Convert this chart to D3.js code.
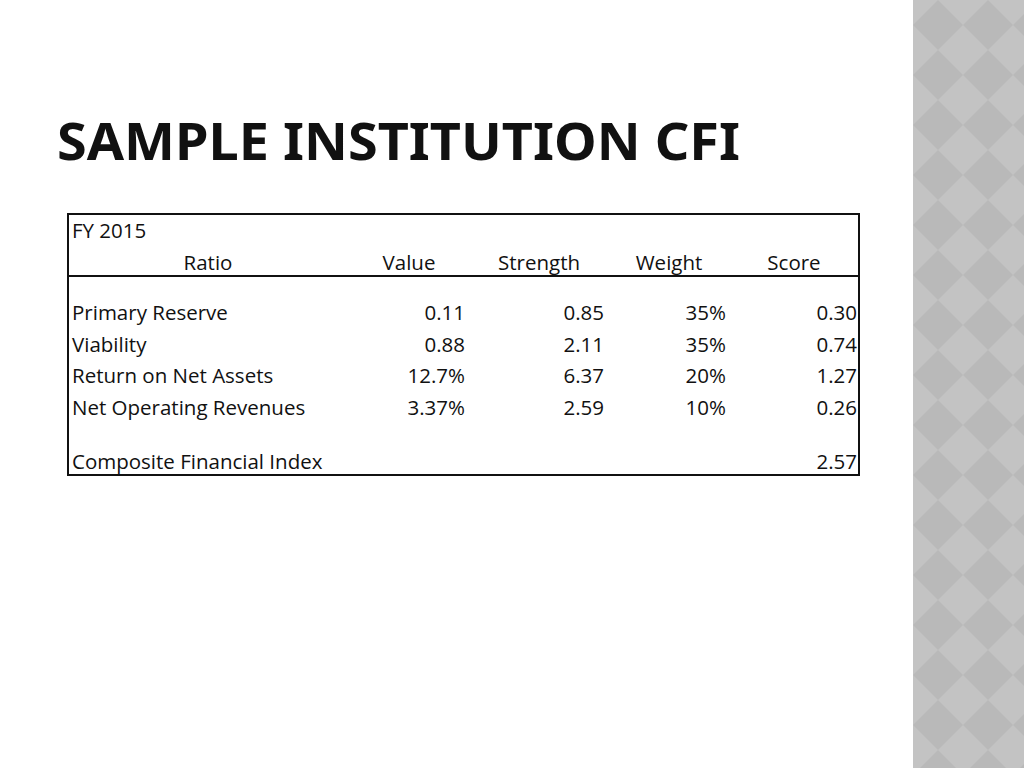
<!DOCTYPE html><html><head><meta charset="utf-8"><script src="https://d3js.org/d3.v7.min.js"></script>
<style>body{margin:0;background:#fff}</style></head><body><svg id="c" width="1024" height="768"></svg>
<script>
const title = "SAMPLE INSTITUTION CFI";
const yearLabel = "FY 2015";
const headers = ["Ratio","Value","Strength","Weight","Score"];
const ratios = ["Primary Reserve","Viability","Return on Net Assets","Net Operating Revenues"];
const values = ["0.11","0.88","12.7%","3.37%"];
const strengths = ["0.85","2.11","6.37","2.59"];
const weights = ["35%","35%","20%","10%"];
const scores = ["0.30","0.74","1.27","0.26"];
const compositeLabel = "Composite Financial Index";
const compositeScore = "2.57";

const svg = d3.select("#c");
const defs = svg.append("defs");
const p = defs.append("pattern").attr("id","dia").attr("patternUnits","userSpaceOnUse").attr("width",50).attr("height",50).attr("x",913);
p.append("rect").attr("width",50).attr("height",50).attr("fill","#c3c3c3");
p.append("path").attr("d","M25 0 L50 25 L25 50 L0 25 Z").attr("fill","#b9b9b9");
svg.append("rect").attr("x",913).attr("y",0).attr("width",111).attr("height",768).attr("fill","url(#dia)");

svg.append("text").attr("x",57).attr("y",160).attr("font-family","Noto Sans").attr("font-weight","bold")
  .attr("font-size",52).attr("fill","#111").text(title)
  .attr("textLength",683).attr("lengthAdjust","spacingAndGlyphs");

const F = "Open Sans";
const fs = 20.5;
const g = svg.append("g").attr("font-family",F).attr("font-size",fs).attr("fill","#111");
g.append("rect").attr("x",68).attr("y",214).attr("width",791).attr("height",261).attr("fill","none").attr("stroke","#111").attr("stroke-width",2);
g.append("line").attr("x1",68).attr("x2",859).attr("y1",276).attr("y2",276).attr("stroke","#111").attr("stroke-width",2);
g.append("text").attr("x",72).attr("y",238).text(yearLabel);
const hx = [208,409,539,669,794];
headers.forEach((h,i)=>g.append("text").attr("x",hx[i]).attr("y",270).attr("text-anchor","middle").text(h));
const y = d3.scalePoint().domain(ratios).range([320,415]);
const colsR = [[values,465],[strengths,604],[weights,726],[scores,857]];
ratios.forEach((r,i)=>{
  g.append("text").attr("x",72).attr("y",y(r)).text(r);
  colsR.forEach(([arr,x])=>g.append("text").attr("x",x).attr("y",y(r)).attr("text-anchor","end").text(arr[i]));
});
g.append("text").attr("x",72).attr("y",469).text(compositeLabel);
g.append("text").attr("x",857).attr("y",469).attr("text-anchor","end").text(compositeScore);
</script></body></html>
